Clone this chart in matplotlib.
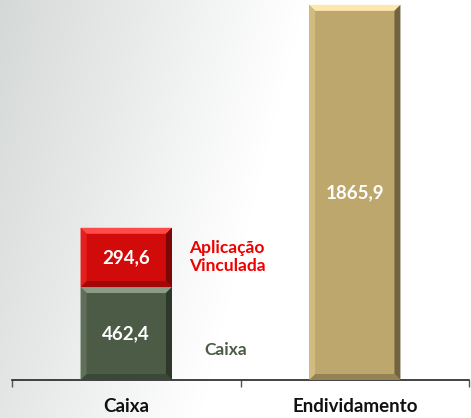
import matplotlib.pyplot as plt
import numpy as np
from matplotlib.patches import Polygon

categories = ["Caixa", "Endividamento"]
caixa_vals = [462.4, 0]
aplicacao_vals = [294.6, 0]
divida_vals = [0, 1865.9]
series_names = ["Caixa", "Aplicação\nVinculada"]

green = "#4b5b46"
red = "#d10a0a"
tan = "#bea76d"

plt.rcParams['font.family'] = ['Lato', 'DejaVu Sans']

fig = plt.figure(figsize=(4.71, 4.18), dpi=100)

# fundo em degradê (cinza à esquerda -> branco à direita)
bg = fig.add_axes([0, 0, 1, 1], zorder=-10)
xx, yy = np.meshgrid(np.linspace(0, 1, 200), np.linspace(0, 1, 200))
t = np.clip(1.55 * xx + 0.35 * yy, 0, 1)
c0 = np.array([0.835, 0.85, 0.845])
c1 = np.array([1.0, 1.0, 1.0])
img = c0[None, None, :] * (1 - t[..., None]) + c1[None, None, :] * t[..., None]
bg.imshow(img, aspect='auto', extent=[0, 1, 0, 1], origin='upper')
bg.axis("off")

ax = fig.add_axes([12 / 471, 38 / 418, 457 / 471, 380 / 418])
ax.patch.set_alpha(0)
x = np.arange(len(categories))
w = 0.4

b1 = ax.bar(x[:1], caixa_vals[:1], w, color=green, zorder=2)
b2 = ax.bar(x[:1], aplicacao_vals[:1], w, bottom=caixa_vals[:1], color=red, zorder=2)
b3 = ax.bar(x[1:], divida_vals[1:], w, color=tan, zorder=2)

ax.set_xlim(-0.5, 1.5)
ax.set_ylim(0, 1890)
ax.set_yticks([])
for s in ["top", "right", "left"]:
    ax.spines[s].set_visible(False)
ax.spines["bottom"].set_color("#222222")
ax.spines["bottom"].set_linewidth(1.2)
ax.set_xticks([-0.5, 0.5, 1.5], minor=False)
ax.set_xticklabels([])
ax.tick_params(axis='x', length=5, color="#555555", width=1)
ax.set_xticks(x, minor=True)
ax.set_xticklabels(categories, minor=True, fontsize=13.5, fontweight="bold", color="#111111")
ax.tick_params(axis='x', which='minor', length=0, pad=13)

# efeito chanfrado nas barras
fig.canvas.draw()
inv = ax.transData.inverted()


def bevel(patch, base):
    bb = patch.get_window_extent()
    d = 6
    x0, y0, x1, y1 = bb.x0, bb.y0, bb.x1, bb.y1
    base = np.array(plt.matplotlib.colors.to_rgb(base))
    light = np.clip(base + 0.25, 0, 1)
    dark = base * 0.6
    sides = [
        ([(x0, y1), (x1, y1), (x1 - d, y1 - d), (x0 + d, y1 - d)], light),
        ([(x1, y1), (x1, y0), (x1 - d, y0 + d), (x1 - d, y1 - d)], dark),
        ([(x0, y0), (x1, y0), (x1 - d, y0 + d), (x0 + d, y0 + d)], base * 0.78),
        ([(x0, y0), (x0, y1), (x0 + d, y1 - d), (x0 + d, y0 + d)], np.clip(base + 0.08, 0, 1)),
    ]
    for pts, col in sides:
        ax.add_patch(Polygon(inv.transform(pts), closed=True, facecolor=col,
                             edgecolor="none", zorder=3))


for p in list(b1) + list(b2) + list(b3):
    bevel(p, p.get_facecolor()[:3])

ax.text(x[0], caixa_vals[0] / 2, "462,4", ha="center", va="center", color="white",
        fontsize=13.5, fontweight="bold", zorder=4)
ax.text(x[0], caixa_vals[0] + aplicacao_vals[0] / 2, "294,6", ha="center", va="center",
        color="white", fontsize=13.5, fontweight="bold", zorder=4)
ax.text(x[1], divida_vals[1] / 2, "1865,9", ha="center", va="center", color="white",
        fontsize=13.5, fontweight="bold", zorder=4)

ax.text(x[0] + 0.275, caixa_vals[0] + aplicacao_vals[0] / 2, series_names[1], ha="left",
        va="center", color="#ee0000", fontsize=12.5, fontweight="bold", linespacing=1.15)
ax.text(x[0] + 0.34, caixa_vals[0] * 0.32, series_names[0], ha="left", va="center",
        color="#4b5b46", fontsize=12.5, fontweight="bold")

fig.savefig("out.png", dpi=100)
